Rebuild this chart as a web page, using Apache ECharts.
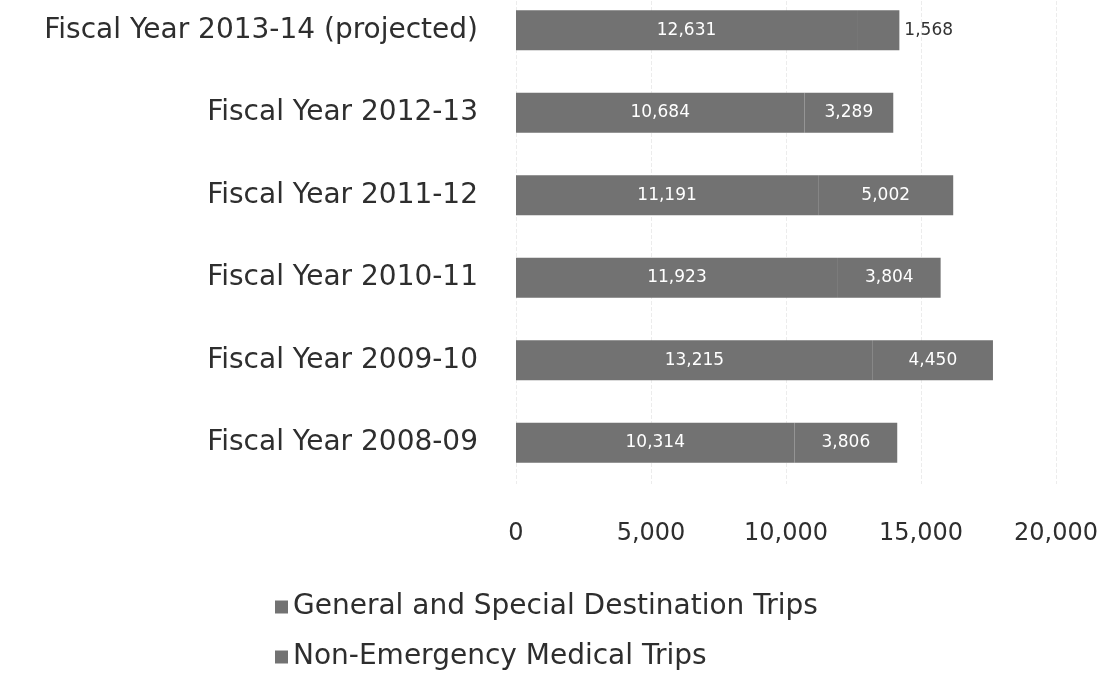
<!DOCTYPE html>
<html>
<head>
<meta charset="utf-8">
<script src="https://cdn.jsdelivr.net/npm/echarts@6/dist/echarts.min.js"></script>
<style>
  html, body { margin: 0; padding: 0; background: #fff; }
  #chart { width: 1101px; height: 673px; }
</style>
</head>
<body>
<div id="chart"></div>
<script>
// categories, bottom to top
const years = [
  'Fiscal Year 2008-09',
  'Fiscal Year 2009-10',
  'Fiscal Year 2010-11',
  'Fiscal Year 2011-12',
  'Fiscal Year 2012-13',
  'Fiscal Year 2013-14 (projected)'
]
const generalTrips = [10314, 13215, 11923, 11191, 10684, 12631]
const medicalTrips = [3806, 4450, 3804, 5002, 3289, 1568]
const xTicks = [0, 5000, 10000, 15000, 20000]

const font = '"DejaVu Sans", sans-serif'
const fmt = v => v.toLocaleString('en-US')

const chart = echarts.init(document.getElementById('chart'))

const option = {
  backgroundColor: '#ffffff',
  animation: false,
  textStyle: { fontFamily: font },
  legend: {
    orient: 'vertical',
    left: 275,
    top: 593,
    height: 120,
    padding: 0,
    itemGap: 22,
    itemWidth: 13,
    itemHeight: 13,
    icon: 'rect',
    textStyle: { fontSize: 28, color: '#2e2e2e', fontFamily: font },
    data: ['General and Special Destination Trips', 'Non-Emergency Medical Trips']
  },
  grid: {
    left: 516,
    width: 540,
    top: -11,
    height: 495,
    outerBoundsMode: 'none'
  },
  xAxis: {
    type: 'value',
    min: xTicks[0],
    max: xTicks[xTicks.length - 1],
    interval: xTicks[1] - xTicks[0],
    axisLine: { show: false },
    axisTick: { show: false },
    splitLine: { lineStyle: { color: '#ececec', type: 'dashed' } },
    axisLabel: {
      color: '#2e2e2e',
      fontSize: 24,
      margin: 38,
      fontFamily: font,
      formatter: v => fmt(v)
    }
  },
  yAxis: {
    type: 'category',
    data: years,
    axisLine: { show: false },
    axisTick: { show: false },
    axisLabel: {
      color: '#2e2e2e',
      fontSize: 28,
      margin: 38,
      fontFamily: font
    }
  },
  series: [
    {
      name: 'General and Special Destination Trips',
      type: 'bar',
      stack: 'trips',
      barWidth: 40,
      data: generalTrips,
      itemStyle: { color: '#727272' },
      label: {
        show: true,
        position: 'inside',
        color: '#fff',
        fontSize: 17,
        fontFamily: font,
        formatter: p => fmt(p.value)
      }
    },
    {
      name: 'Non-Emergency Medical Trips',
      type: 'bar',
      stack: 'trips',
      barWidth: 40,
      data: medicalTrips.map((v, i) => i === medicalTrips.length - 1
        ? { value: v, label: { position: 'right', color: '#333' } }
        : v),
      itemStyle: { color: '#727272' },
      label: {
        show: true,
        position: 'inside',
        color: '#fff',
        fontSize: 17,
        fontFamily: font,
        formatter: p => fmt(p.value)
      }
    }
  ]
}

chart.setOption(option)
</script>
</body>
</html>
